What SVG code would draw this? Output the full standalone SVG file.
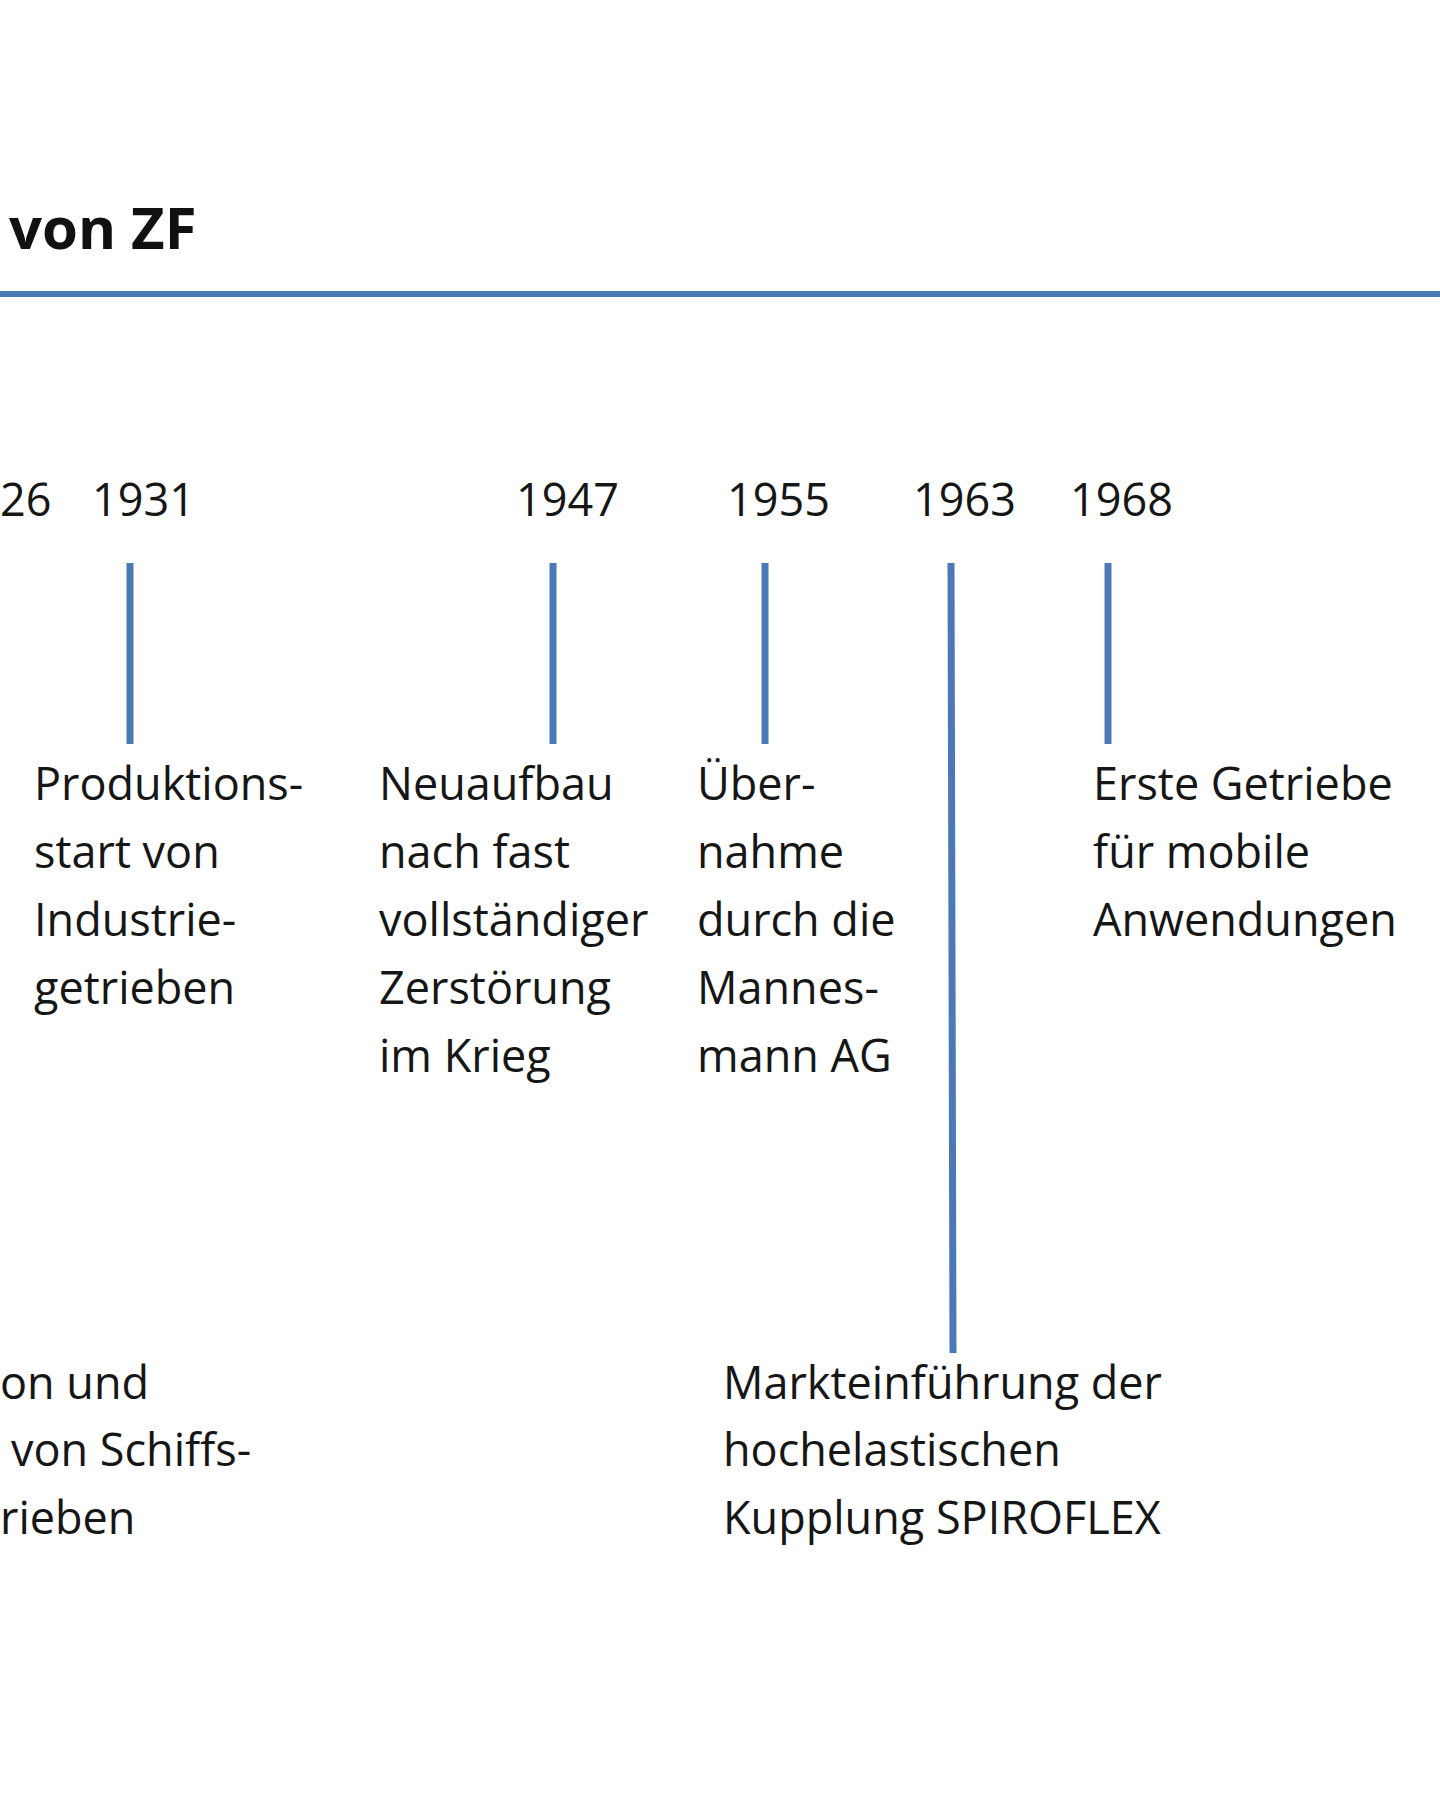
<svg xmlns="http://www.w3.org/2000/svg" width="1440" height="1800" viewBox="0 0 1440 1800">
<style>
.t{font-family:"Open Sans","Noto Sans","Liberation Sans",sans-serif;font-size:45px;fill:#161616}
.title{font-family:"Open Sans","Noto Sans","Liberation Sans",sans-serif;font-size:58px;font-weight:bold;fill:#111}
.ln{stroke:#4a79b3;stroke-width:7;stroke-linecap:butt;fill:none}
</style>
<rect width="1440" height="1800" fill="#ffffff"/>
<g id="title"><text class="title" x="9" y="249">von ZF</text></g>
<g id="connectors">
<line class="ln" x1="0" y1="294" x2="1440" y2="294" style="stroke-width:6"/>
<line class="ln" x1="130" y1="563" x2="130" y2="744"/>
<line class="ln" x1="553" y1="563" x2="553" y2="744"/>
<line class="ln" x1="765" y1="563" x2="765" y2="744"/>
<line class="ln" x1="951" y1="563" x2="953" y2="1353"/>
<line class="ln" x1="1108" y1="563" x2="1108" y2="744"/>
</g>
<g id="n1926">
<text class="t" x="0" y="516">26</text>
<text class="t" x="0" y="1399">on und</text>
<text class="t" x="11" y="1466">von Schiffs-</text>
<text class="t" x="0" y="1534">rieben</text>
</g>
<g id="n1931">
<text class="t" x="92" y="516">1931</text>
<text class="t" x="34" y="800">Produktions-</text>
<text class="t" x="34" y="868">start von</text>
<text class="t" x="34" y="936">Industrie-</text>
<text class="t" x="34" y="1004">getrieben</text>
</g>
<g id="n1947">
<text class="t" x="516" y="516">1947</text>
<text class="t" x="379" y="800">Neuaufbau</text>
<text class="t" x="379" y="868">nach fast</text>
<text class="t" x="379" y="936">vollständiger</text>
<text class="t" x="379" y="1004">Zerstörung</text>
<text class="t" x="379" y="1072">im Krieg</text>
</g>
<g id="n1955">
<text class="t" x="727" y="516">1955</text>
<text class="t" x="697" y="800">Über-</text>
<text class="t" x="697" y="868">nahme</text>
<text class="t" x="697" y="936">durch die</text>
<text class="t" x="697" y="1004">Mannes-</text>
<text class="t" x="697" y="1072">mann AG</text>
</g>
<g id="n1963">
<text class="t" x="913" y="516">1963</text>
<text class="t" x="723" y="1399">Markteinführung der</text>
<text class="t" x="723" y="1466">hochelastischen</text>
<text class="t" x="723" y="1534">Kupplung SPIROFLEX</text>
</g>
<g id="n1968">
<text class="t" x="1070" y="516">1968</text>
<text class="t" x="1093" y="800">Erste Getriebe</text>
<text class="t" x="1093" y="868">für mobile</text>
<text class="t" x="1093" y="936">Anwendungen</text>
</g>
</svg>
